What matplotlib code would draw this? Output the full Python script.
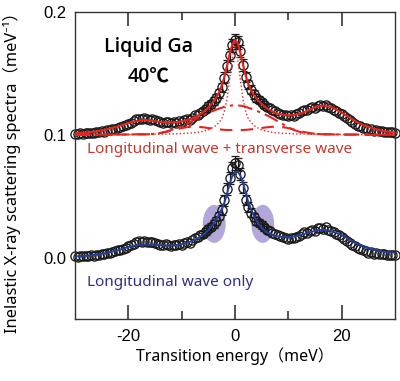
import numpy as np
import matplotlib
matplotlib.use("Agg")
import matplotlib.pyplot as plt
from matplotlib.patches import Ellipse

plt.rcParams['axes.unicode_minus'] = False

# measured spectrum (same data, upper copy shifted by +0.1)
energy = np.linspace(-30, 30, 121)
intensity = [
    0.0010, 0.0008, 0.0012, 0.0010, 0.0015, 0.0013, 0.0018, 0.0016, 0.0022, 0.0020,
    0.0028, 0.0025, 0.0035, 0.0038, 0.0045, 0.0050, 0.0058, 0.0062, 0.0072, 0.0078,
    0.0090, 0.0098, 0.0112, 0.0125, 0.0132, 0.0128, 0.0135, 0.0130, 0.0124, 0.0130,
    0.0118, 0.0112, 0.0105, 0.0098, 0.0108, 0.0100, 0.0094, 0.0102, 0.0098, 0.0110,
    0.0104, 0.0118, 0.0125, 0.0120, 0.0140, 0.0158, 0.0165, 0.0180, 0.0195, 0.0212,
    0.0235, 0.0252, 0.0275, 0.0300, 0.0338, 0.0385, 0.0465, 0.0560, 0.0650, 0.0730,
    0.0770, 0.0755, 0.0680, 0.0570, 0.0470, 0.0410, 0.0365, 0.0330, 0.0300, 0.0285,
    0.0265, 0.0245, 0.0228, 0.0215, 0.0200, 0.0192, 0.0180, 0.0172, 0.0165, 0.0158,
    0.0150, 0.0162, 0.0155, 0.0170, 0.0178, 0.0190, 0.0205, 0.0198, 0.0218, 0.0225,
    0.0220, 0.0238, 0.0242, 0.0235, 0.0245, 0.0228, 0.0218, 0.0205, 0.0195, 0.0180,
    0.0168, 0.0150, 0.0135, 0.0118, 0.0102, 0.0090, 0.0075, 0.0068, 0.0058, 0.0052,
    0.0040, 0.0045, 0.0032, 0.0036, 0.0028, 0.0030, 0.0025, 0.0022, 0.0020, 0.0022, 0.0018,
]
# error bars for the points between -6 and 6 meV
yerr_center = [0.0025, 0.0027, 0.0030, 0.0030, 0.0032, 0.0034, 0.0036, 0.0040, 0.0043,
               0.0047, 0.0050, 0.0052, 0.0053, 0.0053, 0.0050, 0.0047, 0.0043, 0.0040,
               0.0037, 0.0035, 0.0033, 0.0030, 0.0030, 0.0028, 0.0026]
offset = 0.1

# fit curves
fit_x = [-30, -28, -26, -24, -22, -20, -19, -18, -17, -16,
         -15, -14, -13, -12, -11, -10, -9, -8, -7, -6,
         -5, -4, -3.5, -3, -2.5, -2, -1.5, -1, -0.5, 0,
         0.5, 1, 1.5, 2, 2.5, 3, 3.5, 4, 5, 6,
         7, 8, 9, 10, 11, 12, 13, 14, 15, 16,
         17, 18, 19, 20, 21, 22, 23, 24, 26, 28, 30]
total_fit = [0.0012, 0.0018, 0.0028, 0.0045, 0.0068, 0.0095, 0.0107, 0.0115, 0.0118, 0.0116,
             0.0111, 0.0105, 0.0101, 0.0100, 0.0103, 0.0109, 0.0119, 0.0134, 0.0155, 0.0182,
             0.0220, 0.0272, 0.0305, 0.0345, 0.0400, 0.0470, 0.0560, 0.0660, 0.0740, 0.0772,
             0.0748, 0.0668, 0.0572, 0.0482, 0.0414, 0.0364, 0.0326, 0.0296, 0.0250, 0.0215,
             0.0190, 0.0172, 0.0162, 0.0158, 0.0160, 0.0168, 0.0184, 0.0204, 0.0224, 0.0236,
             0.0238, 0.0226, 0.0205, 0.0180, 0.0152, 0.0124, 0.0100, 0.0080, 0.0050, 0.0030, 0.0018]
central = [0.0, 0.0001, 0.0001, 0.0001, 0.0002, 0.0002, 0.0002, 0.0003, 0.0003, 0.0004,
           0.0004, 0.0005, 0.0006, 0.0007, 0.0008, 0.0010, 0.0012, 0.0015, 0.0020, 0.0028,
           0.0040, 0.0062, 0.0078, 0.0100, 0.0130, 0.0190, 0.0290, 0.0450, 0.0620, 0.0760,
           0.0620, 0.0450, 0.0290, 0.0190, 0.0130, 0.0100, 0.0078, 0.0062, 0.0040, 0.0028,
           0.0020, 0.0015, 0.0012, 0.0010, 0.0008, 0.0007, 0.0006, 0.0005, 0.0004, 0.0004,
           0.0003, 0.0003, 0.0002, 0.0002, 0.0002, 0.0002, 0.0001, 0.0001, 0.0001, 0.0001, 0.0]
broad = [0.0, 0.0001, 0.0001, 0.0002, 0.0002, 0.0003, 0.0003, 0.0004, 0.0004, 0.0005,
         0.0008, 0.0015, 0.0025, 0.0038, 0.0055, 0.0072, 0.0090, 0.0112, 0.0135, 0.0158,
         0.0178, 0.0196, 0.0205, 0.0213, 0.0220, 0.0228, 0.0233, 0.0237, 0.0239, 0.0240,
         0.0239, 0.0237, 0.0233, 0.0228, 0.0220, 0.0213, 0.0205, 0.0196, 0.0178, 0.0158,
         0.0135, 0.0110, 0.0085, 0.0060, 0.0040, 0.0025, 0.0015, 0.0010, 0.0006, 0.0005,
         0.0004, 0.0004, 0.0003, 0.0003, 0.0002, 0.0002, 0.0002, 0.0001, 0.0001, 0.0001, 0.0]
transverse = [0.0, 0.0, 0.0001, 0.0001, 0.0001, 0.0002, 0.0002, 0.0003, 0.0003, 0.0004,
              0.0008, 0.0014, 0.0022, 0.0032, 0.0043, 0.0054, 0.0062, 0.0066, 0.0065, 0.0061,
              0.0055, 0.0049, 0.0046, 0.0044, 0.0042, 0.0040, 0.0039, 0.0038, 0.0038, 0.0038,
              0.0038, 0.0038, 0.0039, 0.0040, 0.0042, 0.0044, 0.0046, 0.0049, 0.0055, 0.0061,
              0.0065, 0.0066, 0.0062, 0.0054, 0.0043, 0.0032, 0.0022, 0.0014, 0.0008, 0.0004,
              0.0003, 0.0003, 0.0002, 0.0002, 0.0001, 0.0001, 0.0001, 0.0001, 0.0, 0.0, 0.0]
longitudinal_only = [0.0010, 0.0015, 0.0025, 0.0040, 0.0060, 0.0085, 0.0096, 0.0103, 0.0106, 0.0105,
                     0.0102, 0.0099, 0.0097, 0.0098, 0.0101, 0.0108, 0.0119, 0.0135, 0.0157, 0.0185,
                     0.0222, 0.0275, 0.0310, 0.0350, 0.0390, 0.0445, 0.0520, 0.0600, 0.0665, 0.0698,
                     0.0700, 0.0668, 0.0610, 0.0530, 0.0450, 0.0392, 0.0345, 0.0302, 0.0242, 0.0205,
                     0.0185, 0.0172, 0.0167, 0.0168, 0.0172, 0.0180, 0.0192, 0.0206, 0.0218, 0.0224,
                     0.0224, 0.0215, 0.0200, 0.0182, 0.0160, 0.0135, 0.0110, 0.0092, 0.0062, 0.0046, 0.0040]

# shoulders the longitudinal-only fit misses
shoulders = [(-3.9, 0.0274), (5.2, 0.0274)]

red = '#e8231e'
red_text = '#c8372d'
blue = '#23409a'
blue_text = '#2e2e85'
txt_font = ['Noto Sans', 'Noto Sans CJK JP', 'DejaVu Sans']
title_font = ['Open Sans', 'Noto Sans CJK JP', 'DejaVu Sans']

fig = plt.figure(figsize=(4.0, 3.81), dpi=100)
ax = fig.add_axes([0.1875, 0.163, 0.80, 0.8055])

energy = np.asarray(energy)
intensity = np.asarray(intensity)
fx = np.asarray(fit_x)

for cx, cy in shoulders:
    ax.add_patch(Ellipse((cx, cy), 4.3, 0.031, facecolor='#a698d3', edgecolor='none',
                         alpha=0.85, zorder=1))

mask = np.abs(energy) <= 6
for off in (offset, 0.0):
    ax.plot(energy, intensity + off, 'o', ms=6.6, mfc='none', mec='#1a1a1a', mew=0.95,
            zorder=2, clip_on=False)
    ax.errorbar(energy[mask], intensity[mask] + off, yerr=yerr_center, fmt='none',
                ecolor='#1a1a1a', elinewidth=0.9, capsize=3.2, capthick=0.9, zorder=2)

ax.plot(fx, np.asarray(central) + offset, color=red, lw=1.0, ls=(0, (1, 1.6)), zorder=3)
ax.plot(fx, np.asarray(broad) + offset, color=red, lw=1.5, ls=(0, (7, 2.5, 1.5, 2.5)), zorder=3)
ax.plot(fx, np.asarray(transverse) + offset, color=red, lw=1.5, ls=(0, (6, 4)), zorder=3)
ax.plot(fx, np.asarray(total_fit) + offset, color=red, lw=1.5, zorder=4)
ax.plot(fx, longitudinal_only, color=blue, lw=1.4, zorder=4)

ax.set_xlim(-30, 30)
ax.set_ylim(-0.05, 0.2)
ax.set_xticks([-20, 0, 20])
ax.set_xticks([-10, 10], minor=True)
ax.set_yticks([0.0, 0.1, 0.2])
ax.set_yticklabels(['0.0', '0.1', '0.2'])
ax.tick_params(axis='x', which='both', direction='in', top=True, bottom=True,
               width=1.2, color='#333333', labelsize=12, pad=7)
ax.tick_params(axis='x', which='major', length=10)
ax.tick_params(axis='x', which='minor', length=6)
ax.tick_params(axis='y', length=0, labelsize=12, pad=6)
for lab in ax.get_xticklabels() + ax.get_yticklabels():
    lab.set_family(['Liberation Sans', 'DejaVu Sans'])
for sp in ax.spines.values():
    sp.set_color('#333333')
    sp.set_linewidth(1.0)

ax.set_xlabel('Transition energy（meV）', fontsize=11.5, family=txt_font, labelpad=3)
ax.set_ylabel('Inelastic X-ray scattering spectra（meV⁻¹）', fontsize=11.8,
              family=txt_font, labelpad=3)
ax.yaxis.set_label_coords(-0.17, 0.49)

ax.text(-16.3, 0.1715, 'Liquid Ga', fontsize=14, fontweight='semibold', family=title_font,
        ha='center', va='center')
ax.text(-16.3, 0.147, '40℃', fontsize=14, fontweight='semibold', family=title_font,
        ha='center', va='center')
ax.text(-27.8, 0.0876, 'Longitudinal wave + transverse wave', fontsize=11, color=red_text,
        family=txt_font, ha='left', va='center')
ax.text(-27.8, -0.0207, 'Longitudinal wave only', fontsize=11, color=blue_text,
        family=txt_font, ha='left', va='center')

fig.savefig('out.png', dpi=100)
